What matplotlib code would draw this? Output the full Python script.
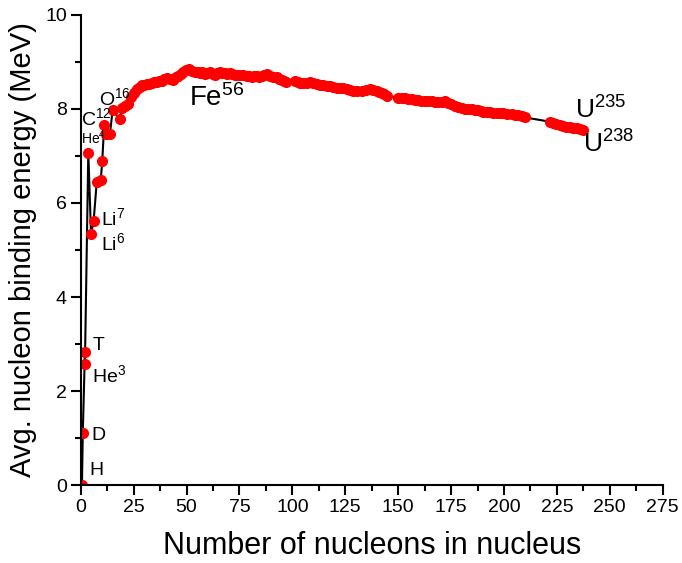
import matplotlib
matplotlib.use("Agg")
import matplotlib.pyplot as plt
from matplotlib.ticker import MultipleLocator

plt.rcParams['font.family'] = ['Liberation Sans', 'DejaVu Sans']
plt.rcParams['mathtext.fontset'] = 'custom'
plt.rcParams['mathtext.rm'] = 'Liberation Sans'
plt.rcParams['mathtext.it'] = 'Liberation Sans:italic'
plt.rcParams['mathtext.bf'] = 'Liberation Sans:bold'

# Nucleon count (as plotted) and average binding energy per nucleon (MeV)
nucleons = [0.6, 1.0, 2.0, 2.0, 3.6, 4.9, 6.1, 7.6, 9.5, 10.2, 11.1, 12.0, 13.8, 15.1,
            18.4, 19.6, 21.0, 22.5, 24.0, 25.3, 26.5, 27.8, 28.9, 30.1, 31.2, 32.4,
            33.6, 34.8, 35.9, 37.1, 38.3, 39.5, 40.6, 42.0, 43.7, 45.0, 46.1, 47.3,
            48.5, 49.8, 51.2, 52.6, 54.0, 55.2, 56.4, 57.5, 58.7, 59.9, 61.1, 62.3,
            63.4, 64.6, 65.8, 67.0, 68.1, 69.3, 70.5, 71.7, 72.9, 74.0, 75.2, 76.8,
            78.4, 79.6, 80.8, 82.0, 83.1, 84.3, 85.5, 86.7, 87.9, 89.4, 91.0, 92.6,
            93.8, 94.9, 96.0, 97.0, 101.2, 102.5, 103.8, 105.2, 106.7, 108.3, 109.9,
            111.5, 113.0, 114.6, 116.2, 117.8, 119.3, 120.9, 122.5, 124.1, 125.6,
            127.2, 128.8, 130.4, 132.7, 134.7, 136.7, 138.3, 139.8, 141.0, 142.2,
            143.4, 144.5, 150.0, 151.6, 153.2, 154.8, 156.4, 158.0, 159.5, 161.0,
            162.6, 164.2, 165.8, 167.3, 168.9, 170.5, 172.1, 173.6, 175.2, 176.8,
            178.4, 180.0, 181.5, 183.1, 184.7, 186.2, 187.8, 189.0, 190.2, 191.8,
            193.3, 194.9, 196.5, 198.0, 199.6, 201.6, 203.6, 205.1, 206.7, 208.3,
            209.9, 221.7, 223.3, 224.8, 226.4, 228.0, 229.5, 231.1, 232.7, 234.3,
            235.8, 237.4]
energy = [0.0, 1.11, 2.83, 2.57, 7.07, 5.33, 5.61, 6.45, 6.49, 6.90, 7.66, 7.46, 7.46, 7.98,
          7.78, 8.03, 8.07, 8.11, 8.26, 8.33, 8.43, 8.46, 8.50, 8.51, 8.53, 8.54,
          8.55, 8.57, 8.58, 8.60, 8.60, 8.63, 8.66, 8.63, 8.61, 8.67, 8.70, 8.74,
          8.78, 8.82, 8.85, 8.81, 8.79, 8.78, 8.77, 8.78, 8.75, 8.77, 8.78, 8.75,
          8.73, 8.76, 8.78, 8.77, 8.77, 8.75, 8.76, 8.75, 8.73, 8.73, 8.72, 8.72,
          8.70, 8.70, 8.69, 8.70, 8.71, 8.69, 8.70, 8.72, 8.74, 8.71, 8.69, 8.67,
          8.64, 8.62, 8.59, 8.57, 8.60, 8.58, 8.56, 8.55, 8.56, 8.57, 8.55,
          8.53, 8.51, 8.50, 8.49, 8.48, 8.46, 8.45, 8.45, 8.44, 8.42,
          8.40, 8.39, 8.39, 8.39, 8.40, 8.43, 8.40, 8.38, 8.36, 8.35,
          8.32, 8.28, 8.24, 8.23, 8.23, 8.22, 8.21, 8.20, 8.19, 8.18,
          8.17, 8.16, 8.16, 8.15, 8.14, 8.15, 8.18, 8.13, 8.10, 8.07,
          8.05, 8.03, 8.01, 8.00, 8.00, 7.98, 7.97, 7.96, 7.94, 7.93,
          7.93, 7.92, 7.91, 7.91, 7.91, 7.90, 7.89, 7.88, 7.87, 7.85,
          7.82, 7.73, 7.70, 7.68, 7.66, 7.64, 7.62, 7.61, 7.60, 7.59,
          7.57, 7.55]

# Labels: (text, x, y, fontsize)
labels = [("H", 3.9, 0.30, 14), ("D", 4.9, 1.06, 14), ("T", 5.8, 2.96, 14),
          ("He$^{3}$", 5.3, 2.34, 14), ("He$^{4}$", 0.2, 7.38, 10),
          ("C$^{12}$", 0.2, 7.81, 14), ("O$^{16}$", 8.6, 8.23, 14),
          ("Li$^{7}$", 9.6, 5.68, 14), ("Li$^{6}$", 9.6, 5.15, 14),
          ("Fe$^{56}$", 51.2, 8.23, 20), ("U$^{235}$", 233.5, 7.98, 19),
          ("U$^{238}$", 237.3, 7.26, 19)]

fig = plt.figure(figsize=(6.82, 5.63), dpi=100)
ax = fig.add_axes([0.1183, 0.1385, 0.8534, 0.8349])

ax.plot(nucleons, energy, color='black', lw=1.5, zorder=2)
ax.plot(nucleons, energy, 'o', color='#ff0000', ms=7, mec='#ff0000', zorder=3,
        linestyle='none')

for txt, x, y, fs in labels:
    ax.text(x, y, txt, fontsize=fs, ha='left', va='center', color='black')

ax.set_xlim(0, 275)
ax.set_ylim(0, 10)
ax.xaxis.set_major_locator(MultipleLocator(25))
ax.xaxis.set_minor_locator(MultipleLocator(12.5))
ax.yaxis.set_major_locator(MultipleLocator(2))
ax.yaxis.set_minor_locator(MultipleLocator(1))

for s in ['top', 'right']:
    ax.spines[s].set_visible(False)
for s in ['left', 'bottom']:
    ax.spines[s].set_linewidth(1.5)
    ax.spines[s].set_zorder(4)

ax.tick_params(which='major', length=7, width=1.5, labelsize=14, pad=3)
ax.tick_params(which='minor', length=4, width=1.5)

ax.set_xlabel("Number of nucleons in nucleus", fontsize=22, labelpad=11)
ax.set_ylabel("Avg. nucleon binding energy (MeV)", fontsize=21, labelpad=6)

fig.savefig("out.png", dpi=100)
